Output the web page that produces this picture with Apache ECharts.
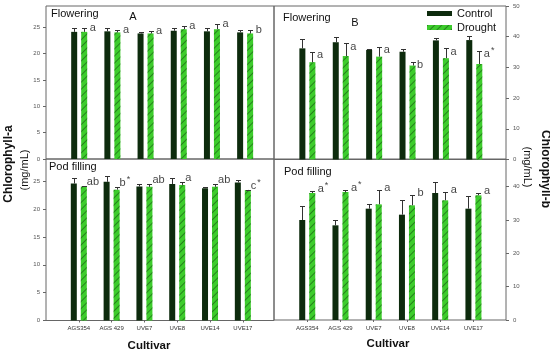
<!DOCTYPE html>
<html><head><meta charset="utf-8">
<script src="https://cdn.jsdelivr.net/npm/echarts@6/dist/echarts.min.js"></script>
<style>html,body{margin:0;padding:0;background:#fff}#c{width:550px;height:353px}</style>
</head><body><div id="c"></div>
<script>
// ---- data ----
const cultivars = ['AGS354', 'AGS 429', 'UVE7', 'UVE8', 'UVE14', 'UVE17'];
const seriesNames = ['Control', 'Drought'];
const ticksA = [0, 5, 10, 15, 20, 25];
const ticksB_flower = [0, 10, 20, 30, 40, 50];
const ticksB_pod = [0, 10, 20, 30, 40];

// Flowering, chlorophyll-a (panel A)
const flowA_control = [24.1, 24.2, 23.8, 24.3, 24.2, 24.0];
const flowA_controlErr = [0.8, 0.7, 0.2, 0.6, 0.7, 0.5];
const flowA_drought = [24.1, 24.0, 23.8, 24.6, 24.6, 23.8];
const flowA_droughtErr = [0.8, 0.4, 0.5, 0.6, 1.0, 0.6];
const flowA_letters = ['a', 'a', 'a', 'a', 'a', 'b'];

// Flowering, chlorophyll-b (panel B)
const flowB_control = [36.2, 38.2, 35.7, 35.1, 38.8, 38.9];
const flowB_controlErr = [3.0, 1.6, 0.4, 1.0, 0.9, 1.3];
const flowB_drought = [31.7, 33.7, 33.5, 30.6, 33.0, 31.1];
const flowB_droughtErr = [3.4, 4.1, 3.2, 1.3, 3.2, 4.3];
const flowB_letters = ['a', 'a', 'a', 'b', 'a', 'a*'];

// Pod filling, chlorophyll-a
const podA_control = [24.6, 24.9, 24.05, 24.5, 23.75, 24.8];
const podA_controlErr = [0.9, 1.1, 0.5, 1.0, 0.15, 0.45];
const podA_drought = [24.05, 23.5, 24.0, 24.35, 24.0, 23.45];
const podA_droughtErr = [0.1, 0.5, 0.5, 0.55, 0.6, 0.05];
const podA_letters = ['ab', 'b*', 'ab', 'a', 'ab', 'c*'];

// Pod filling, chlorophyll-b
const podB_control = [30.0, 28.4, 33.4, 31.6, 38.1, 33.4];
const podB_controlErr = [4.2, 1.7, 1.5, 4.3, 3.3, 3.7];
const podB_drought = [38.1, 38.4, 34.7, 34.4, 35.9, 37.4];
const podB_droughtErr = [0.6, 0.7, 4.4, 3.2, 2.5, 0.7];
const podB_letters = ['a*', 'a*', 'a', 'b', 'a', 'a'];

// ---- styling ----
const FONT = 'Liberation Sans, Arial, sans-serif';
const C_CONTROL = '#0d2b0d';
const C_DROUGHT = '#3dcc2c';
const droughtDecal = {
  symbol: 'rect', symbolSize: 1,
  dashArrayX: [1, 0], dashArrayY: [1, 3.5],
  rotation: -Math.PI / 4,
  color: 'rgba(25,100,20,0.7)'
};
const BAR_W = 6, HALF_SEP = 5;
const pos = cultivars.map((c, i) => i + 1);

function barSeries(gi, name, vals) {
  const isC = name === 'Control';
  return {
    type: 'bar', name, xAxisIndex: gi, yAxisIndex: gi,
    barWidth: BAR_W, barGap: '66.7%',
    itemStyle: isC ? { color: C_CONTROL } : { color: C_DROUGHT, decal: droughtDecal },
    data: vals.map((v, i) => [pos[i], v]), z: 2
  };
}
function errSeries(gi, vals, errs, dx) {
  return {
    type: 'custom', xAxisIndex: gi, yAxisIndex: gi, silent: true, z: 5,
    encode: { x: 0, y: [1, 2] },
    data: vals.map((v, i) => [pos[i], v, v + errs[i]]),
    renderItem(params, api) {
      const p0 = api.coord([api.value(0), api.value(1)]);
      const p1 = api.coord([api.value(0), api.value(2)]);
      const x = Math.round(p0[0] + dx) + 0.5;
      const yt = Math.round(p1[1]) + 0.5;
      return { type: 'group', children: [
        { type: 'line', shape: { x1: x, y1: p0[1], x2: x, y2: yt }, style: { stroke: '#333', lineWidth: 1 } },
        { type: 'line', shape: { x1: x - 2.5, y1: yt, x2: x + 2.5, y2: yt }, style: { stroke: '#333', lineWidth: 1 } }
      ]};
    }
  };
}
function fmtLetter(s) {
  return s.endsWith('*') ? '{t|' + s.slice(0, -1) + '}{s|*}' : '{t|' + s + '}';
}
function letterSeries(gi, vals, errs, letters, dx, dy) {
  return {
    type: 'scatter', xAxisIndex: gi, yAxisIndex: gi, silent: true, z: 6,
    symbolSize: 1, itemStyle: { color: 'rgba(0,0,0,0)' },
    data: vals.map((v, i) => ({ value: [pos[i], v + errs[i]], label: { formatter: fmtLetter(letters[i]) } })),
    label: {
      show: true, position: 'right', distance: 0, offset: [dx, dy],
      rich: {
        t: { fontSize: 11, fontFamily: FONT, color: '#111', lineHeight: 12 },
        s: { fontSize: 9, fontFamily: FONT, color: '#111', padding: [0, 0, 7, 1], lineHeight: 12 }
      }
    }
  };
}
function xAxis(gi, max, showLabels) {
  return {
    type: 'value', gridIndex: gi, min: 0, max, interval: 1,
    splitLine: { show: false }, axisLine: { show: false, onZero: false },
    axisTick: { show: showLabels, length: 2, customValues: pos, lineStyle: { color: '#666' } },
    axisLabel: {
      show: showLabels, customValues: pos, margin: 5,
      fontSize: 6, fontFamily: FONT, color: '#333',
      formatter: v => cultivars[Math.round(v) - 1] || ''
    }
  };
}
function yAxis(gi, max, ticks, side) {
  return {
    type: 'value', gridIndex: gi, position: side, offset: 0, min: 0, max,
    splitLine: { show: false }, axisLine: { show: false, onZero: false },
    axisTick: { show: true, length: 3, customValues: ticks, lineStyle: { color: '#666' } },
    axisLabel: { customValues: ticks, margin: side === 'left' ? 6 : 7, fontSize: 6, fontFamily: FONT, color: '#555' }
  };
}
const gridStyle = { show: true, borderColor: '#666', borderWidth: 1, backgroundColor: 'transparent' };

const option = {
  animation: false,
  backgroundColor: '#fff',
  grid: [
    Object.assign({ left: 46, top: 6, width: 228, height: 153 }, gridStyle),
    Object.assign({ left: 274, top: 6, width: 232, height: 153.5 }, gridStyle),
    Object.assign({ left: 46, top: 159, width: 228, height: 161.5 }, gridStyle),
    Object.assign({ left: 274, top: 159, width: 232, height: 161 }, gridStyle)
  ],
  xAxis: [xAxis(0, 6.87, false), xAxis(1, 6.95, false), xAxis(2, 6.95, true), xAxis(3, 6.98, true)],
  yAxis: [yAxis(0, 29, ticksA, 'left'), yAxis(1, 50, ticksB_flower, 'right'),
          yAxis(2, 29, ticksA, 'left'), yAxis(3, 48.3, ticksB_pod, 'right')],
  legend: {
    data: seriesNames, orient: 'vertical', left: 422, top: 2.5,
    itemWidth: 25, itemHeight: 5, itemGap: 2, icon: 'rect',
    textStyle: { fontSize: 11, fontFamily: FONT, color: '#111', lineHeight: 12 }
  },
  graphic: [
    { type: 'text', x: 51, y: 14, style: { text: 'Flowering', font: '11px ' + FONT, fill: '#111', verticalAlign: 'middle' } },
    { type: 'text', x: 133, y: 17, style: { text: 'A', font: '11px ' + FONT, fill: '#111', align: 'center', verticalAlign: 'middle' } },
    { type: 'text', x: 283, y: 18, style: { text: 'Flowering', font: '11px ' + FONT, fill: '#111', verticalAlign: 'middle' } },
    { type: 'text', x: 355, y: 22.5, style: { text: 'B', font: '11px ' + FONT, fill: '#111', align: 'center', verticalAlign: 'middle' } },
    { type: 'text', x: 49, y: 167, style: { text: 'Pod filling', font: '11px ' + FONT, fill: '#111', verticalAlign: 'middle' } },
    { type: 'text', x: 284, y: 171.5, style: { text: 'Pod filling', font: '11px ' + FONT, fill: '#111', verticalAlign: 'middle' } },
    { type: 'text', x: 8.5, y: 164, rotation: Math.PI / 2, style: { text: 'Chlorophyll-a', font: 'bold 12px ' + FONT, fill: '#111', align: 'center', verticalAlign: 'middle' } },
    { type: 'text', x: 25, y: 170, rotation: Math.PI / 2, style: { text: '(mg/mL)', font: '11px ' + FONT, fill: '#111', align: 'center', verticalAlign: 'middle' } },
    { type: 'text', x: 545, y: 169, rotation: -Math.PI / 2, style: { text: 'Chlorophyll-b', font: 'bold 12px ' + FONT, fill: '#111', align: 'center', verticalAlign: 'middle' } },
    { type: 'text', x: 527, y: 167, rotation: -Math.PI / 2, style: { text: '(mg/mL)', font: '11px ' + FONT, fill: '#111', align: 'center', verticalAlign: 'middle' } },
    { type: 'text', x: 149, y: 346, style: { text: 'Cultivar', font: 'bold 11.5px ' + FONT, fill: '#111', align: 'center', verticalAlign: 'middle' } },
    { type: 'text', x: 388, y: 343.5, style: { text: 'Cultivar', font: 'bold 11.5px ' + FONT, fill: '#111', align: 'center', verticalAlign: 'middle' } }
  ],
  series: [
    barSeries(0, 'Control', flowA_control), barSeries(0, 'Drought', flowA_drought),
    errSeries(0, flowA_control, flowA_controlErr, -HALF_SEP), errSeries(0, flowA_drought, flowA_droughtErr, HALF_SEP),
    letterSeries(0, flowA_drought, flowA_droughtErr, flowA_letters, 10, 0),

    barSeries(1, 'Control', flowB_control), barSeries(1, 'Drought', flowB_drought),
    errSeries(1, flowB_control, flowB_controlErr, -HALF_SEP), errSeries(1, flowB_drought, flowB_droughtErr, HALF_SEP),
    letterSeries(1, flowB_drought, flowB_droughtErr, flowB_letters, 9, 3.5),

    barSeries(2, 'Control', podA_control), barSeries(2, 'Drought', podA_drought),
    errSeries(2, podA_control, podA_controlErr, -HALF_SEP), errSeries(2, podA_drought, podA_droughtErr, HALF_SEP),
    letterSeries(2, podA_drought, podA_droughtErr, podA_letters, 7.5, -4),

    barSeries(3, 'Control', podB_control), barSeries(3, 'Drought', podB_drought),
    errSeries(3, podB_control, podB_controlErr, -HALF_SEP), errSeries(3, podB_drought, podB_droughtErr, HALF_SEP),
    letterSeries(3, podB_drought, podB_droughtErr, podB_letters, 10, -2)
  ]
};
const chart = echarts.init(document.getElementById('c'), null, { renderer: 'canvas' });
chart.setOption(option);
</script>
</body></html>
